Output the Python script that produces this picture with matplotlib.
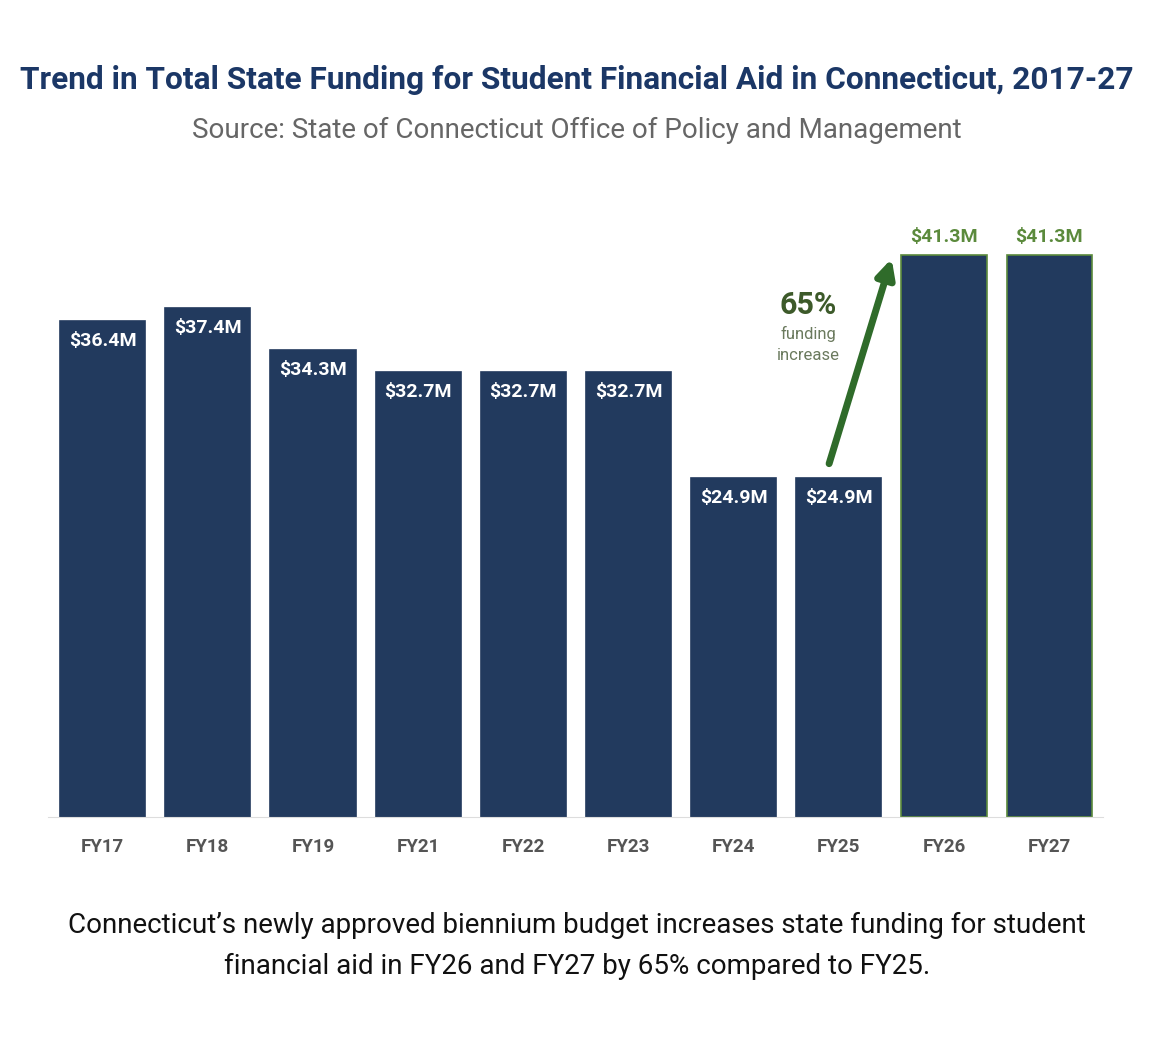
import numpy as np
import matplotlib.pyplot as plt

years = ['FY17', 'FY18', 'FY19', 'FY21', 'FY22', 'FY23', 'FY24', 'FY25', 'FY26', 'FY27']
funding = [36.4, 37.4, 34.3, 32.7, 32.7, 32.7, 24.9, 24.9, 41.3, 41.3]
labels = ['$36.4M', '$37.4M', '$34.3M', '$32.7M', '$32.7M', '$32.7M',
          '$24.9M', '$24.9M', '$41.3M', '$41.3M']

navy = '#223a5e'
green = '#5b8a3c'
arrow_green = '#2f6b2a'

plt.rcParams['font.family'] = ['Roboto', 'DejaVu Sans']

fig = plt.figure(figsize=(11.54, 10.42), dpi=100)
ax = fig.add_axes([0.0416, 0.216, 0.914, 0.588])

x = np.arange(len(years))
edges = [navy] * 8 + [green, green]
ax.bar(x, funding, width=0.81, color=navy, edgecolor=edges, linewidth=1.2)

for i, (v, lab) in enumerate(zip(funding, labels)):
    if i >= 8:
        ax.text(i, v + 0.6, lab, ha='center', va='bottom', color=green,
                fontsize=14, fontweight='bold')
    else:
        ax.text(i, v - 0.8, lab, ha='center', va='top', color='white',
                fontsize=14, fontweight='bold')

# arrow FY25 -> FY26
ax.annotate('', xy=(7.51, 41.2), xytext=(6.90, 25.75),
            arrowprops=dict(arrowstyle='-|>,head_length=1.1,head_width=0.55',
                            color=arrow_green, lw=5))
ax.text(6.71, 37.6, '65%', ha='center', va='center', color='#3d5a2a',
        fontsize=22, fontweight='bold')
ax.text(6.71, 35.5, 'funding', ha='center', va='center', color='#6b7a5e', fontsize=12)
ax.text(6.71, 33.9, 'increase', ha='center', va='center', color='#6b7a5e', fontsize=12)

ax.set_xlim(-0.52, 9.51)
ax.set_ylim(0, 45)
ax.set_xticks(x)
ax.set_xticklabels(years, color='#555555', fontsize=13.5, fontweight='bold')
ax.tick_params(axis='x', length=0, pad=15)
ax.set_yticks([])
for s in ['top', 'right', 'left']:
    ax.spines[s].set_visible(False)
ax.spines['bottom'].set_color('#dddddd')

fig.text(0.5, 1 - 80 / 1042, 'Trend in Total State Funding for Student Financial Aid in Connecticut, 2017-27',
         ha='center', va='center', color='#1b3766', fontsize=22.8, fontweight='bold')
fig.text(0.5, 1 - 130 / 1042, 'Source: State of Connecticut Office of Policy and Management',
         ha='center', va='center', color='#666666', fontsize=20)
fig.text(0.5, 1 - 946 / 1042,
         'Connecticut\u2019s newly approved biennium budget increases state funding for student\n'
         'financial aid in FY26 and FY27 by 65% compared to FY25.',
         ha='center', va='center', color='#111111', fontsize=20, linespacing=1.7)

fig.savefig('out.png', dpi=100)
